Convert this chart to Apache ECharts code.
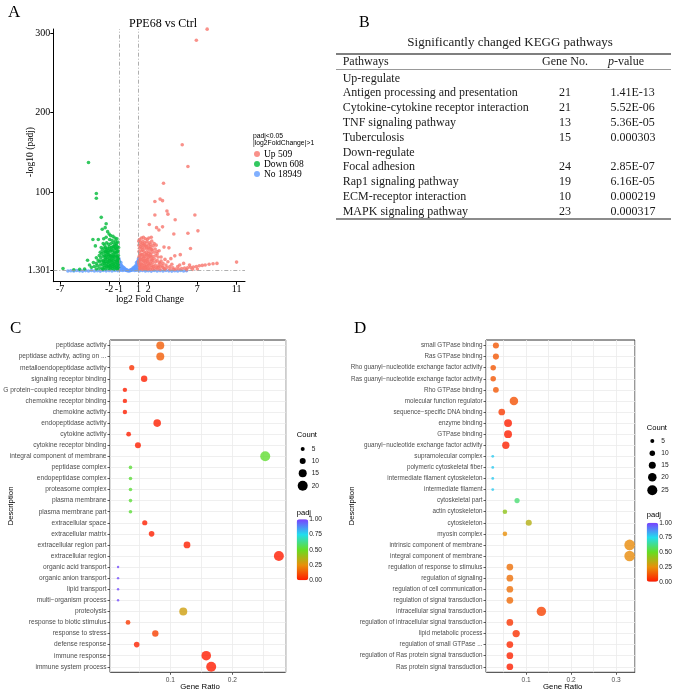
<!DOCTYPE html>
<html>
<head>
<meta charset="utf-8">
<script src="https://cdn.jsdelivr.net/npm/echarts@6/dist/echarts.min.js"></script>
<style>
  html, body { margin: 0; padding: 0; background: #fff; }
  #main { width: 676px; height: 692px; }
</style>
</head>
<body>
<div id="main"></div>
<script>
const SERIF = '"Liberation Serif", "Times New Roman", serif';
const SANS = '"Liberation Sans", Arial, Helvetica, sans-serif';

// ---- panel A : volcano (log2FC, -log10 padj) ----
const volcanoGroups = ['Up 509', 'Down 608', 'No 18949'];
const volcanoXTicks = [-7, -2, -1, 1, 2, 7, 11];
const volcanoYTicks = [1.301, 100, 200, 300];
const fcCut = [-1, 1];
const padjCut = 1.301;

const upGenes = [
  [8.0,305],[6.9,291],[5.46,159.5],[6.04,132],[3.55,111],[2.67,88],[3.2,91],[3.45,89],[3.9,76],[4.0,72],
  [2.67,71],[6.75,71],[4.74,65],[2.1,59],[2.84,55],[3.45,56],[3.08,52],[7.06,51],[4.6,47],[6.04,48],
  [2.3,43],[3.6,30.5],[4.1,29.6],[6.3,28.7],[5.26,21],[4.7,19.5],[11.0,11.6],
  [9.0,10],[8.6,9.5],[8.2,9],[7.8,8],[7.5,7.5],[7.2,7],[6.9,6],[6.6,5.5],[6.3,5],[6.0,4.5],[5.7,4],
  [5.4,3.5],[5.1,3],[4.8,2.8],[7.0,3],[6.5,2.5],[5.9,2],[5.0,6],[4.5,4.5],[4.2,6],[3.8,8],[3.5,5],
  [3.2,10],[3.0,7],[4.0,12],[4.4,9],[5.2,8],[5.6,10],[6.2,8],[3.7,15],[3.3,18],[4.3,16],[2.9,22],[3.1,26],
  [1.1,40],[1.3,42],[1.5,43],[1.7,41],[1.9,40],[2.05,42],[1.2,37],[1.45,38],[1.65,36],[1.85,37],[2.1,36],
  [2.35,38],[2.6,35],[1.05,33],[1.25,34],[1.5,33],[1.75,32],[2.0,33],[2.25,31],[2.5,32],[2.8,33],[1.1,29],
  [1.35,30],[1.6,29],[1.85,28],[2.15,29],[2.4,27],[2.7,28],[1.05,25],[1.3,26],[1.55,25],[1.8,24],[2.05,25],
  [2.3,23],[2.6,24],[2.9,25],[1.15,22],[1.4,21],[1.65,22],[1.9,20],[2.2,21],[2.45,19],[2.75,20],[3.0,18],
  [1.05,18],[1.3,17],[1.55,18],[1.8,16],[2.05,17],[2.35,15],[2.6,16],[2.9,14],[3.3,13],[1.1,14],[1.35,13],
  [1.6,14],[1.9,12],[2.15,13],[2.45,11],[2.75,12],[3.1,11],[3.5,10],[1.05,10],[1.3,9],[1.55,10],[1.8,8],
  [2.1,9],[2.4,7],[2.7,8],[3.0,5],[3.4,7],[3.9,5],[1.15,6],[1.45,5],[1.7,6],[2.0,4],[2.3,5],[2.6,3.5],
  [2.9,3],[1.1,3],[1.4,2.5],[1.75,2.5],[2.2,2.5],[3.2,2.5],[3.7,2.5],[4.2,2.5],[4.6,2.3],
  [1.02,12],[1.12,20],[1.22,15],[1.32,21],[1.42,27],[1.52,13],[1.62,19],[1.72,11],[1.82,21],[1.92,15],
  [2.02,22],[2.12,19],[2.22,10],[2.32,27],[2.42,14],[1.08,7],[1.18,10],[1.28,5],[1.38,8],[1.48,16],
  [1.58,7],[1.68,4],[1.78,13],[1.88,6],[1.98,10],[2.08,7],[2.28,18],[2.52,6],[1.03,38],[1.23,31],
  [1.43,35],[1.63,33],[1.83,31],[2.03,29],[2.23,34],[1.15,3.5],[1.55,3.5],[1.95,2.5],[2.45,2.3],[2.8,5],
  [3.2,6],[3.6,3.5]
];

const downGenes = [
  [-4.1,137],[-3.3,98],[-3.3,92],[-2.8,68],[-2.3,60],[-2.4,55],[-2.7,53],[-2.15,50],[-2.0,47],[-1.85,45],
  [-1.6,44],[-1.4,42],[-1.2,41],[-3.1,40],[-3.65,40],[-2.55,41],[-2.3,43],[-1.95,40],[-1.7,39],[-1.35,38],
  [-1.1,37],[-3.4,32],[-2.8,30],[-2.6,35],[-2.45,33],[-2.25,36],[-2.05,34],[-1.8,35],[-1.55,36],[-1.3,33],
  [-1.15,31],[-2.9,24],[-2.7,27],[-2.5,29],[-2.35,30],[-2.15,29],[-1.95,31],[-1.75,30],[-1.5,31],[-1.25,28],
  [-1.08,26],[-3.0,20],[-2.75,22],[-2.55,24],[-2.4,25],[-2.2,24],[-2.0,26],[-1.85,25],[-1.65,26],[-1.45,24],
  [-1.2,23],[-1.05,20],[-3.3,17],[-3.1,14],[-2.85,17],[-2.6,19],[-2.45,20],[-2.3,19],[-2.1,21],[-1.9,20],
  [-1.7,21],[-1.55,19],[-1.35,20],[-1.15,18],[-4.2,14],[-3.6,11],[-3.3,10],[-3.0,12],[-2.8,13],[-2.6,14],
  [-2.4,15],[-2.2,15],[-2.0,16],[-1.8,15],[-1.6,14],[-1.4,15],[-1.25,13],[-1.1,14],[-4.0,8],[-3.8,5],
  [-3.5,6],[-3.2,7],[-2.9,8],[-2.7,9],[-2.5,10],[-2.3,10],[-2.1,11],[-1.9,10],[-1.7,11],[-1.5,10],
  [-1.3,9],[-1.1,9],[-4.5,3],[-5.0,2.5],[-5.6,2],[-6.7,3.6],[-3.0,4],[-2.7,4],[-2.45,5],[-2.2,6],
  [-2.0,6],[-1.8,5],[-1.6,6],[-1.4,5],[-1.2,4],[-1.05,5],[-2.35,3],[-1.9,3],[-1.5,2.5],[-1.15,2.5],
  [-2.65,2.5],[-3.3,3],
  [-1.02,12],[-1.12,16],[-1.22,19],[-1.32,24],[-1.42,28],[-1.52,22],[-1.62,17],[-1.72,13],[-1.82,19],
  [-1.92,14],[-2.02,21],[-2.12,18],[-2.22,27],[-2.32,22],[-2.42,12],[-1.08,7],[-1.18,11],[-1.28,6],
  [-1.38,12],[-1.48,7],[-1.58,9],[-1.68,3.5],[-1.78,8],[-1.88,7],[-1.98,13],[-2.08,4],[-2.18,12],
  [-2.28,7],[-2.38,17],[-2.52,7],[-1.03,30],[-1.13,25],[-1.23,35],[-1.33,29],[-1.43,33],[-1.63,31],
  [-1.73,27],[-1.93,28],[-2.13,24],[-2.33,26],[-1.06,16],[-1.46,18],[-1.76,18],[-2.06,8],[-2.56,12]
];

const noGenes = [
  [-6.2,0.5],[-5.9,0.8],[-5.6,0.4],[-5.3,1.0],[-5.0,0.6],[-4.7,0.3],[-4.4,0.9],[-4.1,0.5],[-3.8,1.1],
  [-3.5,0.4],[-3.2,0.8],[-2.9,0.3],[-2.6,1.0],[-2.3,0.6],[-2.0,0.9],[-1.7,0.4],[-1.4,1.1],[-1.1,0.7],
  [1.1,0.6],[1.4,1.0],[1.7,0.4],[2.0,0.8],[2.3,0.3],[2.6,1.1],[2.9,0.5],[3.2,0.9],[3.5,0.4],[3.8,1.0],
  [4.1,0.6],[4.4,0.3],[4.7,0.8],[5.0,0.5],[5.3,1.0],[5.6,0.4],[5.9,0.7],
  [-0.98,14],[-0.95,10],[-0.92,12],[-0.9,7],[-0.88,9],[-0.85,5],[-0.8,11],[-0.78,6],[-0.75,8],[-0.7,4],
  [-0.65,6],[-0.6,3],[-0.55,5],[-0.5,2.5],[-0.45,4],[-0.4,2],[-0.35,3],[-0.3,1.5],[-0.25,2],[-0.2,1],
  [-0.15,1.5],[-0.1,0.8],[0,0.5],[0.1,0.8],[0.15,1.5],[0.2,1],[0.25,2],[0.3,1.5],[0.35,3],[0.4,2],
  [0.45,4],[0.5,2.5],[0.55,5],[0.6,3],[0.65,6],[0.7,4],[0.75,8],[0.78,6],[0.8,11],[0.85,5],[0.88,9],
  [0.9,7],[0.92,12],[0.95,10],[0.98,14],[-0.97,3],[-0.9,2],[0.9,2],[0.97,3],[-0.6,1],[0.6,1],
  [-0.8,1.5],[0.8,1.5],[-1.0,16],[1.0,16]
];

// ---- panel B : KEGG table ----
const upPathways = ['Antigen processing and presentation', 'Cytokine-cytokine receptor interaction', 'TNF signaling pathway', 'Tuberculosis'];
const upGeneNo = [21, 21, 13, 15];
const upPValue = ['1.41E-13', '5.52E-06', '5.36E-05', '0.000303'];
const downPathways = ['Focal adhesion', 'Rap1 signaling pathway', 'ECM-receptor interaction', 'MAPK signaling pathway'];
const downGeneNo = [24, 19, 10, 23];
const downPValue = ['2.85E-07', '6.16E-05', '0.000219', '0.000317'];

// ---- panel C : GO dot plot ----
const termsC = [
  'peptidase activity', 'peptidase activity, acting on ...', 'metalloendopeptidase activity',
  'signaling receptor binding', 'G protein\u2212coupled receptor binding', 'chemokine receptor binding',
  'chemokine activity', 'endopeptidase activity', 'cytokine activity', 'cytokine receptor binding',
  'integral component of membrane', 'peptidase complex', 'endopeptidase complex', 'proteasome complex',
  'plasma membrane', 'plasma membrane part', 'extracellular space', 'extracellular matrix',
  'extracellular region part', 'extracellular region', 'organic acid transport', 'organic anion transport',
  'lipid transport', 'multi\u2212organism process', 'proteolysis', 'response to biotic stimulus',
  'response to stress', 'defense response', 'immune response', 'immune system process'
];
const ratioC = [0.084, 0.084, 0.038, 0.058, 0.027, 0.027, 0.027, 0.079, 0.033, 0.048,
  0.253, 0.036, 0.036, 0.036, 0.036, 0.036, 0.059, 0.070, 0.127, 0.275,
  0.016, 0.016, 0.016, 0.016, 0.121, 0.032, 0.076, 0.046, 0.158, 0.166];
const countC = [15, 15, 8, 11, 6, 6, 6, 14, 7, 10,
  20, 4, 4, 4, 4, 4, 8, 9, 12, 20,
  1, 1, 1, 1, 15, 7, 11, 9, 19, 20];
const padjC = [0.14, 0.14, 0.05, 0.01, 0.01, 0.01, 0.01, 0.01, 0.01, 0.01,
  0.52, 0.53, 0.53, 0.53, 0.53, 0.53, 0.01, 0.01, 0.01, 0.005,
  0.98, 0.98, 0.98, 0.98, 0.30, 0.07, 0.08, 0.02, 0.005, 0.005];
const countBreaksC = [5, 10, 15, 20];

// ---- panel D : GO dot plot ----
const termsD = [
  'small GTPase binding', 'Ras GTPase binding', 'Rho guanyl\u2212nucleotide exchange factor activity',
  'Ras guanyl\u2212nucleotide exchange factor activity', 'Rho GTPase binding', 'molecular function regulator',
  'sequence\u2212specific DNA binding', 'enzyme binding', 'GTPase binding',
  'guanyl\u2212nucleotide exchange factor activity', 'supramolecular complex', 'polymeric cytoskeletal fiber',
  'intermediate filament cytoskeleton', 'intermediate filament', 'cytoskeletal part', 'actin cytoskeleton',
  'cytoskeleton', 'myosin complex', 'intrinsic component of membrane', 'integral component of membrane',
  'regulation of response to stimulus', 'regulation of signaling', 'regulation of cell communication',
  'regulation of signal transduction', 'intracellular signal transduction',
  'regulation of intracellular signal transduction', 'lipid metabolic process', 'regulation of small GTPase ...',
  'regulation of Ras protein signal transduction', 'Ras protein signal transduction'
];
const ratioD = [0.033, 0.033, 0.027, 0.027, 0.033, 0.073, 0.046, 0.060, 0.060, 0.055,
  0.026, 0.026, 0.026, 0.026, 0.080, 0.053, 0.106, 0.053, 0.330, 0.330,
  0.064, 0.064, 0.064, 0.064, 0.134, 0.064, 0.078, 0.064, 0.064, 0.064];
const countD = [12, 12, 10, 10, 11, 20, 14, 18, 18, 16,
  1, 1, 1, 1, 9, 7, 12, 7, 27, 27,
  14, 14, 14, 14, 23, 14, 16, 14, 14, 14];
const padjD = [0.13, 0.13, 0.13, 0.13, 0.13, 0.12, 0.07, 0.01, 0.01, 0.02,
  0.78, 0.78, 0.78, 0.78, 0.60, 0.42, 0.35, 0.25, 0.24, 0.24,
  0.18, 0.18, 0.18, 0.17, 0.09, 0.06, 0.05, 0.03, 0.02, 0.01];
const countBreaksD = [5, 10, 15, 20, 25];

const padjTicks = [1.00, 0.75, 0.50, 0.25, 0.00];
const padjColors = ['#ff1a00', '#e8900a', '#66dd22', '#22ddee', '#7b3fff'];

const sizeC = c => 2 + 0.4 * c;
const sizeD = c => 2.5 + 0.3 * c;

// ---------------------------------------------------------------
const chart = echarts.init(document.getElementById('main'));

function txt(x, y, text, font, align, vAlign, color, rotation) {
  return {
    type: 'text', x: x, y: y, rotation: rotation || 0, silent: true,
    style: { text: text, font: font, textAlign: align || 'left', textVerticalAlign: vAlign || 'middle', fill: color || '#000' }
  };
}
function hline(x1, x2, y, width, color) {
  return { type: 'line', silent: true, shape: { x1: x1, y1: y, x2: x2, y2: y }, style: { stroke: color, lineWidth: width } };
}

const graphics = [];
// panel letters
graphics.push(txt(8, 13, 'A', '17px ' + SERIF));
graphics.push(txt(359, 23, 'B', '16px ' + SERIF));
graphics.push(txt(10, 329, 'C', '17px ' + SERIF));
graphics.push(txt(354, 329, 'D', '17px ' + SERIF));

// panel A texts
graphics.push(txt(163, 24, 'PPE68 vs Ctrl', '12px ' + SERIF, 'center'));
graphics.push(txt(30, 152, '-log10 (padj)', '9.5px ' + SERIF, 'center', 'middle', '#000', Math.PI / 2));
graphics.push(txt(150, 299, 'log2 Fold Change', '9.5px ' + SERIF, 'center'));
graphics.push(txt(253, 136, 'padj<0.05', '6.8px ' + SANS));
graphics.push(txt(253, 143, '|log2FoldChange|>1', '6.8px ' + SANS));

// panel B table
const tFont = '12px ' + SERIF;
graphics.push(txt(510, 43, 'Significantly changed KEGG pathways', '13px ' + SERIF, 'center', 'middle', '#1a1a1a'));
graphics.push(hline(336, 671, 54, 1.4, '#555'));
graphics.push(txt(342.7, 62, 'Pathways', tFont, 'left', 'middle', '#1a1a1a'));
graphics.push(txt(565, 62, 'Gene No.', tFont, 'center', 'middle', '#1a1a1a'));
graphics.push(txt(608, 62, 'p', 'italic 12px ' + SERIF, 'left', 'middle', '#1a1a1a'));
graphics.push(txt(614, 62, '-value', tFont, 'left', 'middle', '#1a1a1a'));
graphics.push(hline(336, 671, 69.5, 1, '#999'));
const tableRows = [{ name: 'Up-regulate' }];
upPathways.forEach((p, i) => tableRows.push({ name: p, n: upGeneNo[i], p: upPValue[i] }));
tableRows.push({ name: 'Down-regulate' });
downPathways.forEach((p, i) => tableRows.push({ name: p, n: downGeneNo[i], p: downPValue[i] }));
tableRows.forEach((r, i) => {
  const y = 78.5 + i * 14.8;
  graphics.push(txt(342.7, y, r.name, tFont, 'left', 'middle', '#1a1a1a'));
  if (r.n !== undefined) {
    graphics.push(txt(565, y, String(r.n), tFont, 'center', 'middle', '#1a1a1a'));
    graphics.push(txt(610.5, y, r.p, tFont, 'left', 'middle', '#1a1a1a'));
  }
});
graphics.push(hline(336, 671, 219, 1.4, '#666'));

// panels C & D axis titles + legends
function dotLegends(o) {
  graphics.push(txt(o.descX, 506, 'Description', '7.8px ' + SANS, 'center', 'middle', '#000', Math.PI / 2));
  graphics.push(txt(o.ratioX, 686.5, 'Gene Ratio', '7.8px ' + SANS, 'center'));
  graphics.push(txt(o.legX, o.countY, 'Count', '7.6px ' + SANS));
  o.breaks.forEach((b, i) => {
    graphics.push({ type: 'circle', silent: true, shape: { cx: o.circX, cy: o.breakY[i], r: o.size(b) / 2 }, style: { fill: '#000' } });
    graphics.push(txt(o.circX + 9, o.breakY[i], String(b), '6.6px ' + SANS, 'left', 'middle', '#222'));
  });
  graphics.push(txt(o.legX, o.padjY, 'padj', '7.6px ' + SANS));
  padjTicks.forEach((t, i) => {
    const y = o.barTop + i * o.barH / 4;
    graphics.push(txt(o.legX + 12.5, y, t.toFixed(2), '6.6px ' + SANS, 'left', 'middle', '#222'));
  });
}
dotLegends({ descX: 11, ratioX: 200, legX: 296.7, countY: 435.3, circX: 302.7, breaks: countBreaksC,
  breakY: [449, 461, 473.3, 485.7], size: sizeC, padjY: 512.7, barTop: 519.3, barH: 61 });
dotLegends({ descX: 352, ratioX: 562.7, legX: 646.7, countY: 427.7, circX: 652.3, breaks: countBreaksD,
  breakY: [441, 453.3, 465.3, 477.3, 490.3], size: sizeD, padjY: 515, barTop: 522.7, barH: 59 });

// ---------------------------------------------------------------
const volcanoMarkLine = {
  silent: true, symbol: ['none', 'none'], label: { show: false },
  lineStyle: { color: '#9a9a9a', width: 0.8, type: [4, 2, 1, 2] },
  data: [{ xAxis: fcCut[0] }, { xAxis: fcCut[1] }, { yAxis: padjCut }]
};

function dotAxes(grid, terms, min, max, labels, fontSize) {
  return {
    x: {
      type: 'value', gridIndex: grid, min: min, max: max,
      axisLine: { show: false },
      axisTick: { show: true, customValues: labels, length: 2.5, lineStyle: { color: '#333', width: 0.8 } },
      axisLabel: { customValues: labels, fontFamily: SANS, fontSize: 6.6, color: '#4d4d4d', margin: 4 },
      splitLine: { show: false }
    },
    // hidden twin axis: only draws the 0.05-step background grid
    grid: {
      type: 'value', gridIndex: grid, min: min, max: max,
      axisLine: { show: false }, axisTick: { show: false }, axisLabel: { show: false },
      splitLine: { show: true, lineStyle: { color: '#ebebeb', width: 0.8 } }
    },
    y: {
      type: 'category', gridIndex: grid, data: terms, inverse: true,
      axisLine: { show: false },
      axisTick: { show: true, alignWithLabel: true, length: 2.5, lineStyle: { color: '#333', width: 0.8 } },
      axisLabel: { interval: 0, fontFamily: SANS, fontSize: fontSize, color: '#4d4d4d', margin: 3.5 },
      splitLine: { show: true, alignWithLabel: true, interval: 0, lineStyle: { color: '#ebebeb', width: 0.8 } }
    }
  };
}
const axC = dotAxes(1, termsC, 0.003, 0.286, [0.1, 0.2], 6.6);
const axD = dotAxes(2, termsD, 0.011, 0.342, [0.1, 0.2, 0.3], 6.3);

const option = {
  backgroundColor: '#fff',
  animation: false,
  grid: [
    { left: 53.3, top: 29, width: 191.7, height: 252.7 },
    { left: 110, top: 340, width: 175.7, height: 332.3, show: true, borderColor: '#333', borderWidth: 1, backgroundColor: '#fff' },
    { left: 486, top: 340, width: 149, height: 332.3, show: true, borderColor: '#333', borderWidth: 1, backgroundColor: '#fff' }
  ],
  xAxis: [
    {
      type: 'value', gridIndex: 0, min: -7.69, max: 11.86,
      axisLine: { show: true, onZero: false, lineStyle: { color: '#000', width: 1 } },
      axisTick: { show: true, customValues: volcanoXTicks, length: 3, lineStyle: { color: '#000' } },
      axisLabel: { customValues: volcanoXTicks, fontFamily: SERIF, fontSize: 10, color: '#000', margin: 3 },
      splitLine: { show: false }
    },
    axC.x, axD.x, axC.grid, axD.grid
  ],
  yAxis: [
    {
      type: 'value', gridIndex: 0, min: -13.06, max: 305.2,
      axisLine: { show: true, onZero: false, lineStyle: { color: '#000', width: 1 } },
      axisTick: { show: true, customValues: volcanoYTicks, length: 3, lineStyle: { color: '#000' } },
      axisLabel: { customValues: volcanoYTicks, fontFamily: SERIF, fontSize: 10, color: '#000', margin: 3 },
      splitLine: { show: false }
    },
    axC.y, axD.y
  ],
  legend: {
    data: volcanoGroups, orient: 'vertical', left: 254, top: 149, padding: 0,
    itemWidth: 6, itemHeight: 6, itemGap: 0, icon: 'circle', selectedMode: false,
    textStyle: { fontFamily: SERIF, fontSize: 9.5, color: '#000', padding: [0, 0, 0, -1] }
  },
  visualMap: [
    { type: 'continuous', seriesIndex: 3, dimension: 2, min: 0, max: 1, calculable: false, padding: 0,
      left: 296.7, top: 519.3, itemWidth: 11.6, itemHeight: 61, inRange: { color: padjColors } },
    { type: 'continuous', seriesIndex: 4, dimension: 2, min: 0, max: 1, calculable: false, padding: 0,
      left: 646.7, top: 522.7, itemWidth: 11.6, itemHeight: 59, inRange: { color: padjColors } }
  ],
  graphic: { elements: graphics },
  series: [
    { name: volcanoGroups[2], type: 'scatter', xAxisIndex: 0, yAxisIndex: 0, data: noGenes,
      symbolSize: 3.6, itemStyle: { color: '#619CFF' }, markLine: volcanoMarkLine },
    { name: volcanoGroups[0], type: 'scatter', xAxisIndex: 0, yAxisIndex: 0, data: upGenes,
      symbolSize: 3.6, itemStyle: { color: '#F8766D' } },
    { name: volcanoGroups[1], type: 'scatter', xAxisIndex: 0, yAxisIndex: 0, data: downGenes,
      symbolSize: 3.6, itemStyle: { color: '#00BA38' } },
    { name: 'GO C', type: 'scatter', xAxisIndex: 1, yAxisIndex: 1,
      data: termsC.map((t, i) => [ratioC[i], t, padjC[i], countC[i]]),
      symbolSize: v => sizeC(v[3]) },
    { name: 'GO D', type: 'scatter', xAxisIndex: 2, yAxisIndex: 2,
      data: termsD.map((t, i) => [ratioD[i], t, padjD[i], countD[i]]),
      symbolSize: v => sizeD(v[3]) }
  ]
};
chart.setOption(option);
</script>
</body>
</html>
